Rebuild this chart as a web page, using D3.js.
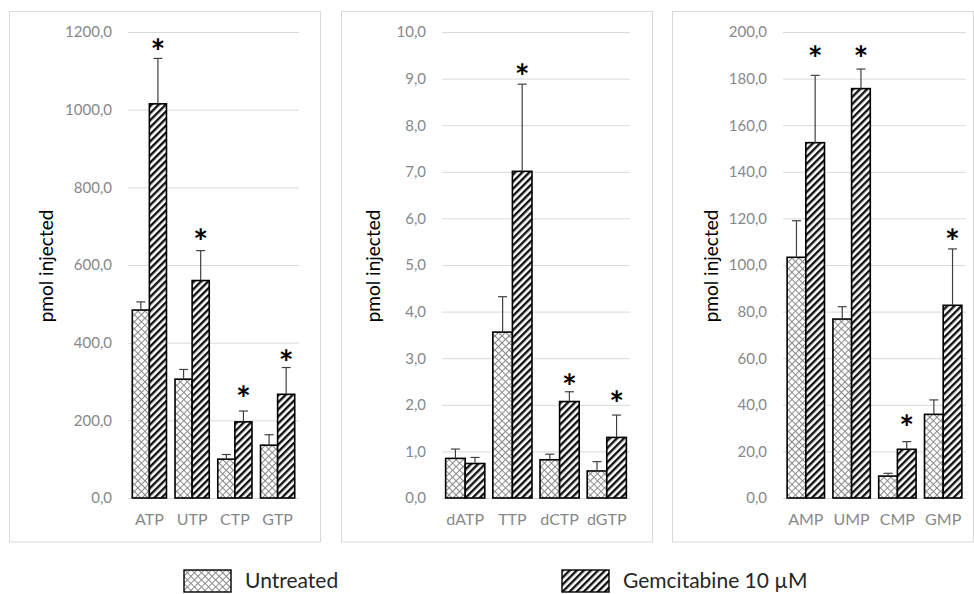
<!DOCTYPE html>
<html>
<head>
<meta charset="utf-8">
<script src="https://cdn.jsdelivr.net/npm/d3@7"></script>
<style>
  body { margin: 0; background: #fff; }
  svg { display: block; }
</style>
</head>
<body>
<div id="chart"></div>
<script>
// ---- data ----
const ntpCats = ["ATP", "UTP", "CTP", "GTP"];
const ntpUntreated = [484, 306, 100, 136];
const ntpUntreatedErr = [21, 25, 12, 27];
const ntpGem = [1015, 560, 196, 267];
const ntpGemErr = [117, 77, 28, 69];
const ntpStars = [1166, 677, 274, 366];
const ntpTicks = [0, 200, 400, 600, 800, 1000, 1200];

const dntpCats = ["dATP", "TTP", "dCTP", "dGTP"];
const dntpUntreated = [0.85, 3.56, 0.82, 0.58];
const dntpUntreatedErr = [0.20, 0.76, 0.12, 0.20];
const dntpGem = [0.74, 7.01, 2.07, 1.30];
const dntpGemErr = [0.13, 1.87, 0.21, 0.48];
const dntpStars = [null, 9.18, 2.53, 2.17];
const dntpTicks = [0, 1, 2, 3, 4, 5, 6, 7, 8, 9, 10];

const nmpCats = ["AMP", "UMP", "CMP", "GMP"];
const nmpUntreated = [103.3, 76.8, 9.4, 35.9];
const nmpUntreatedErr = [15.7, 5.3, 1.2, 6.2];
const nmpGem = [152.5, 175.7, 20.9, 82.7];
const nmpGemErr = [28.9, 8.4, 3.3, 24.2];
const nmpStars = [191.6, 191.6, 33, 113];
const nmpTicks = [0, 20, 40, 60, 80, 100, 120, 140, 160, 180, 200];

const seriesNames = ["Untreated", "Gemcitabine 10 \u00B5M"];
const yTitle = "pmol injected";

const W = 974, H = 594;
const yTop = 32, yBottom = 498;
const font = "Lato, 'Open Sans', sans-serif";
const fmt = v => d3.format(".1f")(v).replace(".", ",");

const svg = d3.select("#chart")
    .append("svg")
    .attr("width", W)
    .attr("height", H);

// hatch patterns
const defs = svg.append("defs");
const pU = defs.append("pattern")
    .attr("id", "pUntreated")
    .attr("patternUnits", "userSpaceOnUse")
    .attr("width", 5).attr("height", 5)
    .attr("patternTransform", "rotate(45)");
pU.append("rect").attr("width", 5).attr("height", 5).attr("fill", "#fff");
pU.append("line").attr("x1", 2.5).attr("x2", 2.5).attr("y1", 0).attr("y2", 5)
    .attr("stroke", "#8a8a8a").attr("stroke-width", 1);
pU.append("line").attr("x1", 0).attr("x2", 5).attr("y1", 2.5).attr("y2", 2.5)
    .attr("stroke", "#8a8a8a").attr("stroke-width", 1);

const pG = defs.append("pattern")
    .attr("id", "pGem")
    .attr("patternUnits", "userSpaceOnUse")
    .attr("width", 5).attr("height", 5)
    .attr("patternTransform", "rotate(45)");
pG.append("rect").attr("width", 5).attr("height", 5).attr("fill", "#fff");
pG.append("rect").attr("width", 2.4).attr("height", 5).attr("fill", "#111");

const fills = ["url(#pUntreated)", "url(#pGem)"];

// panel layout
const panels = [
    { cats: ntpCats, vals: [ntpUntreated, ntpGem], errs: [ntpUntreatedErr, ntpGemErr], stars: ntpStars,
      ticks: ntpTicks, box: [9.5, 320.5], plot: [128, 299], pIn: 0.2, pOut: 0.1, titleX: 53 },
    { cats: dntpCats, vals: [dntpUntreated, dntpGem], errs: [dntpUntreatedErr, dntpGemErr], stars: dntpStars,
      ticks: dntpTicks, box: [341.5, 652.5], plot: [442, 630], pIn: 0.17, pOut: 0.077, titleX: 380 },
    { cats: nmpCats, vals: [nmpUntreated, nmpGem], errs: [nmpUntreatedErr, nmpGemErr], stars: nmpStars,
      ticks: nmpTicks, box: [672.5, 973.5], plot: [783, 966], pIn: 0.184, pOut: 0.09, titleX: 718 }
];

panels.forEach(p => {
    const g = svg.append("g");

    // frame
    g.append("rect")
        .attr("x", p.box[0]).attr("y", 11.5)
        .attr("width", p.box[1] - p.box[0]).attr("height", 542 - 11.5)
        .attr("fill", "none").attr("stroke", "#d9d9d9");

    const x = d3.scaleBand()
        .domain(p.cats)
        .range(p.plot)
        .paddingInner(p.pIn)
        .paddingOuter(p.pOut);
    const y = d3.scaleLinear()
        .domain([0, d3.max(p.ticks)])
        .range([yBottom, yTop]);

    // y axis + gridlines
    const yAx = g.append("g")
        .attr("transform", `translate(${p.plot[0]},0)`)
        .call(d3.axisLeft(y).tickValues(p.ticks).tickFormat(fmt)
            .tickSizeInner(-(p.plot[1] - p.plot[0])).tickSizeOuter(0).tickPadding(16));
    yAx.select(".domain").remove();
    yAx.selectAll("line").attr("stroke", "#d9d9d9");
    yAx.selectAll("text").attr("fill", "#888").style("font", `15px ${font}`);

    // category axis
    const xAx = g.append("g")
        .attr("transform", `translate(0,${yBottom})`)
        .call(d3.axisBottom(x).tickSize(0).tickPadding(16));
    xAx.select(".domain").remove();
    xAx.selectAll("text").attr("fill", "#888").style("font", `16px ${font}`);

    // axis title
    g.append("text")
        .attr("transform", `translate(${p.titleX},266) rotate(-90)`)
        .attr("text-anchor", "middle")
        .style("font", `19px ${font}`)
        .attr("fill", "#000")
        .text(yTitle);

    const bw = x.bandwidth() / 2;

    // bars
    [0, 1].forEach(s => {
        g.selectAll(".bar" + s)
            .data(p.cats)
            .enter()
            .append("rect")
            .attr("x", (d, i) => x(d) + s * bw)
            .attr("y", (d, i) => y(p.vals[s][i]))
            .attr("width", bw)
            .attr("height", (d, i) => yBottom - y(p.vals[s][i]))
            .attr("fill", fills[s])
            .attr("stroke", "#000")
            .attr("stroke-width", 1.6);
    });

    // error bars (upper only)
    [0, 1].forEach(s => {
        const eg = g.selectAll(".err" + s)
            .data(p.cats)
            .enter()
            .append("g");
        eg.append("line")
            .attr("x1", d => x(d) + s * bw + bw / 2)
            .attr("x2", d => x(d) + s * bw + bw / 2)
            .attr("y1", (d, i) => y(p.vals[s][i]))
            .attr("y2", (d, i) => y(p.vals[s][i] + p.errs[s][i]))
            .attr("stroke", "#404040").attr("stroke-width", 1.2);
        eg.append("line")
            .attr("x1", d => x(d) + s * bw + bw / 2 - 4.5)
            .attr("x2", d => x(d) + s * bw + bw / 2 + 4.5)
            .attr("y1", (d, i) => y(p.vals[s][i] + p.errs[s][i]))
            .attr("y2", (d, i) => y(p.vals[s][i] + p.errs[s][i]))
            .attr("stroke", "#404040").attr("stroke-width", 1.2);
    });

    // significance stars over the gemcitabine bars
    g.selectAll(".star")
        .data(p.cats.filter((d, i) => p.stars[i] != null))
        .enter()
        .append("text")
        .attr("x", d => x(d) + bw * 1.5)
        .attr("y", d => y(p.stars[p.cats.indexOf(d)]) + 19)
        .attr("text-anchor", "middle")
        .style("font", `bold 35px ${font}`)
        .attr("fill", "#000")
        .text("*");
});

// legend
const legendX = [184, 562];
const lg = svg.append("g");
seriesNames.forEach((name, i) => {
    lg.append("rect")
        .attr("x", legendX[i]).attr("y", 570)
        .attr("width", 47).attr("height", 22)
        .attr("fill", fills[i])
        .attr("stroke", "#000").attr("stroke-width", 1.4);
    lg.append("text")
        .attr("x", legendX[i] + 61).attr("y", 588)
        .style("font", `21px ${font}`)
        .attr("fill", "#262626")
        .text(name);
});
</script>
</body>
</html>
